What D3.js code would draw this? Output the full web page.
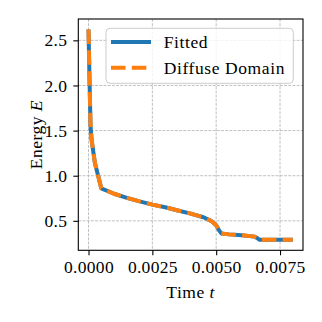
<!DOCTYPE html>
<html>
<head>
<meta charset="utf-8">
<script src="https://cdn.jsdelivr.net/npm/d3@7"></script>
<style>
  html, body { margin: 0; padding: 0; background: #fff; }
  svg { display: block; }
  svg text { font-family: "Liberation Serif", serif !important; }
</style>
</head>
<body>
<script>
// Data
const times = [0, 0.00004, 0.00008, 0.00012, 0.00025, 0.0005, 0.001, 0.0015, 0.002, 0.0025, 0.003, 0.0035, 0.004, 0.0045, 0.0048, 0.005, 0.0051, 0.0052, 0.0055, 0.006, 0.0065, 0.0066, 0.0067, 0.007, 0.0075, 0.008];
const fittedEnergy = [2.62, 2.05, 1.55, 1.40, 1.14, 0.86, 0.80, 0.755, 0.715, 0.68, 0.65, 0.615, 0.58, 0.54, 0.50, 0.45, 0.40, 0.36, 0.35, 0.34, 0.325, 0.31, 0.29, 0.29, 0.29, 0.29];
const diffuseEnergy = [2.62, 2.05, 1.55, 1.40, 1.14, 0.86, 0.80, 0.755, 0.715, 0.68, 0.65, 0.615, 0.58, 0.54, 0.50, 0.45, 0.40, 0.36, 0.35, 0.34, 0.325, 0.31, 0.29, 0.29, 0.29, 0.29];
const xTicks = [0, 0.0025, 0.005, 0.0075];
const yTicks = [0.5, 1.0, 1.5, 2.0, 2.5];
const seriesNames = ["Fitted", "Diffuse Domain"];

const W = 322, H = 322;
const L = 78.3, R = 303, T = 19, B = 250.3;
const FS = 17.5;

const svg = d3.select("body").append("svg").attr("width", W).attr("height", H);

const x = d3.scaleLinear().domain([-0.0004, 0.0084]).range([L, R]);
const y = d3.scaleLinear().domain([0.1735, 2.7365]).range([B, T]);

// grid
const grid = svg.append("g").attr("stroke", "#b0b0b0").attr("stroke-width", 0.8).attr("stroke-dasharray", "2.9,1.3");
grid.selectAll(".gx").data(xTicks).enter().append("line")
  .attr("x1", d => x(d)).attr("x2", d => x(d)).attr("y1", T).attr("y2", B);
grid.selectAll(".gy").data(yTicks).enter().append("line")
  .attr("y1", d => y(d)).attr("y2", d => y(d)).attr("x1", L).attr("x2", R);

// lines
const line = d3.line().x(d => x(d[0])).y(d => y(d[1]));
const fData = times.map((t, i) => [t, fittedEnergy[i]]);
const dData = times.map((t, i) => [t, diffuseEnergy[i]]);
svg.append("path").attr("d", line(fData)).attr("fill", "none")
  .attr("stroke", "#1f77b4").attr("stroke-width", 4).attr("stroke-linejoin", "round");
svg.append("path").attr("d", line(dData)).attr("fill", "none")
  .attr("stroke", "#ff7f0e").attr("stroke-width", 4).attr("stroke-dasharray", "14.5,6.3");

// axes
const xAxis = d3.axisBottom(x).tickValues(xTicks).tickFormat(d3.format(".4f")).tickSize(5).tickPadding(5);
const yAxis = d3.axisLeft(y).tickValues(yTicks).tickFormat(d3.format(".1f")).tickSize(5).tickPadding(6);
const gx = svg.append("g").attr("transform", `translate(0,${B})`).call(xAxis);
const gy = svg.append("g").attr("transform", `translate(${L},0)`).call(yAxis);
[gx, gy].forEach(g => {
  g.select(".domain").remove();
  g.attr("font-family", null);
  g.selectAll(".tick line").attr("stroke", "#000").attr("stroke-width", 1.1);
  g.selectAll(".tick text").attr("font-size", FS).attr("fill", "#000").attr("letter-spacing", 0.3);
});

// spines
svg.append("rect").attr("x", L).attr("y", T).attr("width", R - L).attr("height", B - T)
  .attr("fill", "none").attr("stroke", "#000").attr("stroke-width", 1.1);

// axis labels
const xl = svg.append("text").attr("x", (L + R) / 2).attr("y", 298.3).attr("text-anchor", "middle").attr("font-size", FS).attr("letter-spacing", 0.5);
xl.append("tspan").text("Time ");
xl.append("tspan").attr("font-style", "italic").text("t");
const yl = svg.append("text").attr("transform", `translate(41.7,${(T + B) / 2}) rotate(-90)`).attr("text-anchor", "middle").attr("font-size", FS).attr("letter-spacing", 0.5);
yl.append("tspan").text("Energy ");
yl.append("tspan").attr("font-style", "italic").text("E");

// legend
const lg = svg.append("g");
lg.append("rect").attr("x", 106).attr("y", 28.3).attr("width", 187.3).attr("height", 55)
  .attr("rx", 4).attr("fill", "#fff").attr("fill-opacity", 0.8).attr("stroke", "#cccccc").attr("stroke-width", 1);
const legY = [42, 67.7];
const styles = [{c: "#1f77b4", dash: null}, {c: "#ff7f0e", dash: "14.5,6.3"}];
seriesNames.forEach((name, i) => {
  const ln = lg.append("line").attr("x1", 111).attr("x2", 151).attr("y1", legY[i]).attr("y2", legY[i])
    .attr("stroke", styles[i].c).attr("stroke-width", 4);
  if (styles[i].dash) ln.attr("stroke-dasharray", styles[i].dash);
  lg.append("text").attr("x", 163.7).attr("y", legY[i] + 6).attr("font-size", FS).attr("letter-spacing", 0.6).text(name);
});
</script>
</body>
</html>
